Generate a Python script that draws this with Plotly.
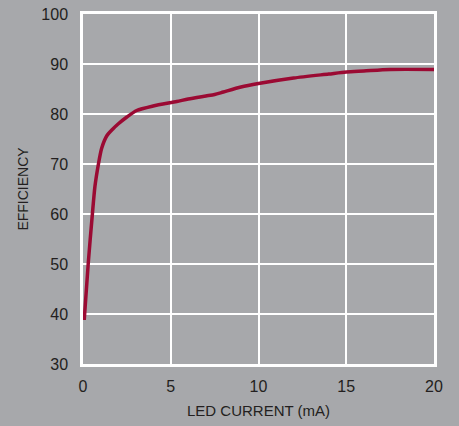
import plotly.graph_objects as go

led_current = [0.07, 0.3, 0.53, 0.68, 0.87, 1.06, 1.35, 1.7, 2.0, 2.5, 3.06, 4.0, 5.34, 6.0, 7.0, 7.5, 8.0, 9.0, 10.0, 12.0, 14.0, 15.0, 16.0, 17.5, 20.0]
efficiency = [38.8, 50.2, 59.8, 65.5, 69.8, 73.1, 75.6, 77.0, 78.0, 79.4, 80.7, 81.6, 82.5, 83.0, 83.6, 83.9, 84.4, 85.4, 86.1, 87.2, 88.0, 88.4, 88.6, 88.9, 88.9]

x_ticks = [0, 5, 10, 15, 20]
y_ticks = [30, 40, 50, 60, 70, 80, 90, 100]

BG = "#a7a8ab"
FONT = "Liberation Sans, Arial, sans-serif"

fig = go.Figure()
fig.add_trace(go.Scatter(
    x=led_current, y=efficiency, mode="lines",
    line=dict(color="#9b0a33", width=3.5, shape="spline", smoothing=0.7),
    showlegend=False, hoverinfo="skip",
))

fig.update_layout(
    width=459, height=426,
    paper_bgcolor=BG, plot_bgcolor=BG,
    margin=dict(l=83, r=25, t=14, b=62),
    font=dict(family=FONT, color="#231f20", size=16),
    xaxis=dict(
        range=[0, 20], tickvals=x_ticks, ticktext=[str(v) for v in x_ticks],
        showgrid=True, gridcolor="white", gridwidth=1.5,
        showline=True, linecolor="white", linewidth=2.5, mirror=True,
        zeroline=False, ticks="", ticklabelstandoff=6, automargin=False,
        title=dict(text="LED CURRENT (mA)", font=dict(size=15, family=FONT), standoff=12),
        tickfont=dict(size=16, family=FONT),
    ),
    yaxis=dict(
        range=[30, 100], tickvals=y_ticks, ticktext=[str(v) for v in y_ticks],
        showgrid=True, gridcolor="white", gridwidth=1.5,
        showline=True, linecolor="white", linewidth=2.5, mirror=True,
        zeroline=False, ticks="", ticklabelstandoff=9, automargin=False,
        title=dict(text="EFFICIENCY", font=dict(size=14, family=FONT), standoff=10),
        tickfont=dict(size=16, family=FONT),
    ),
)

fig.write_html(
    "out.html",
    config={"displayModeBar": False},
    post_script="document.body.style.margin='0';document.body.style.background='%s';" % BG,
)
